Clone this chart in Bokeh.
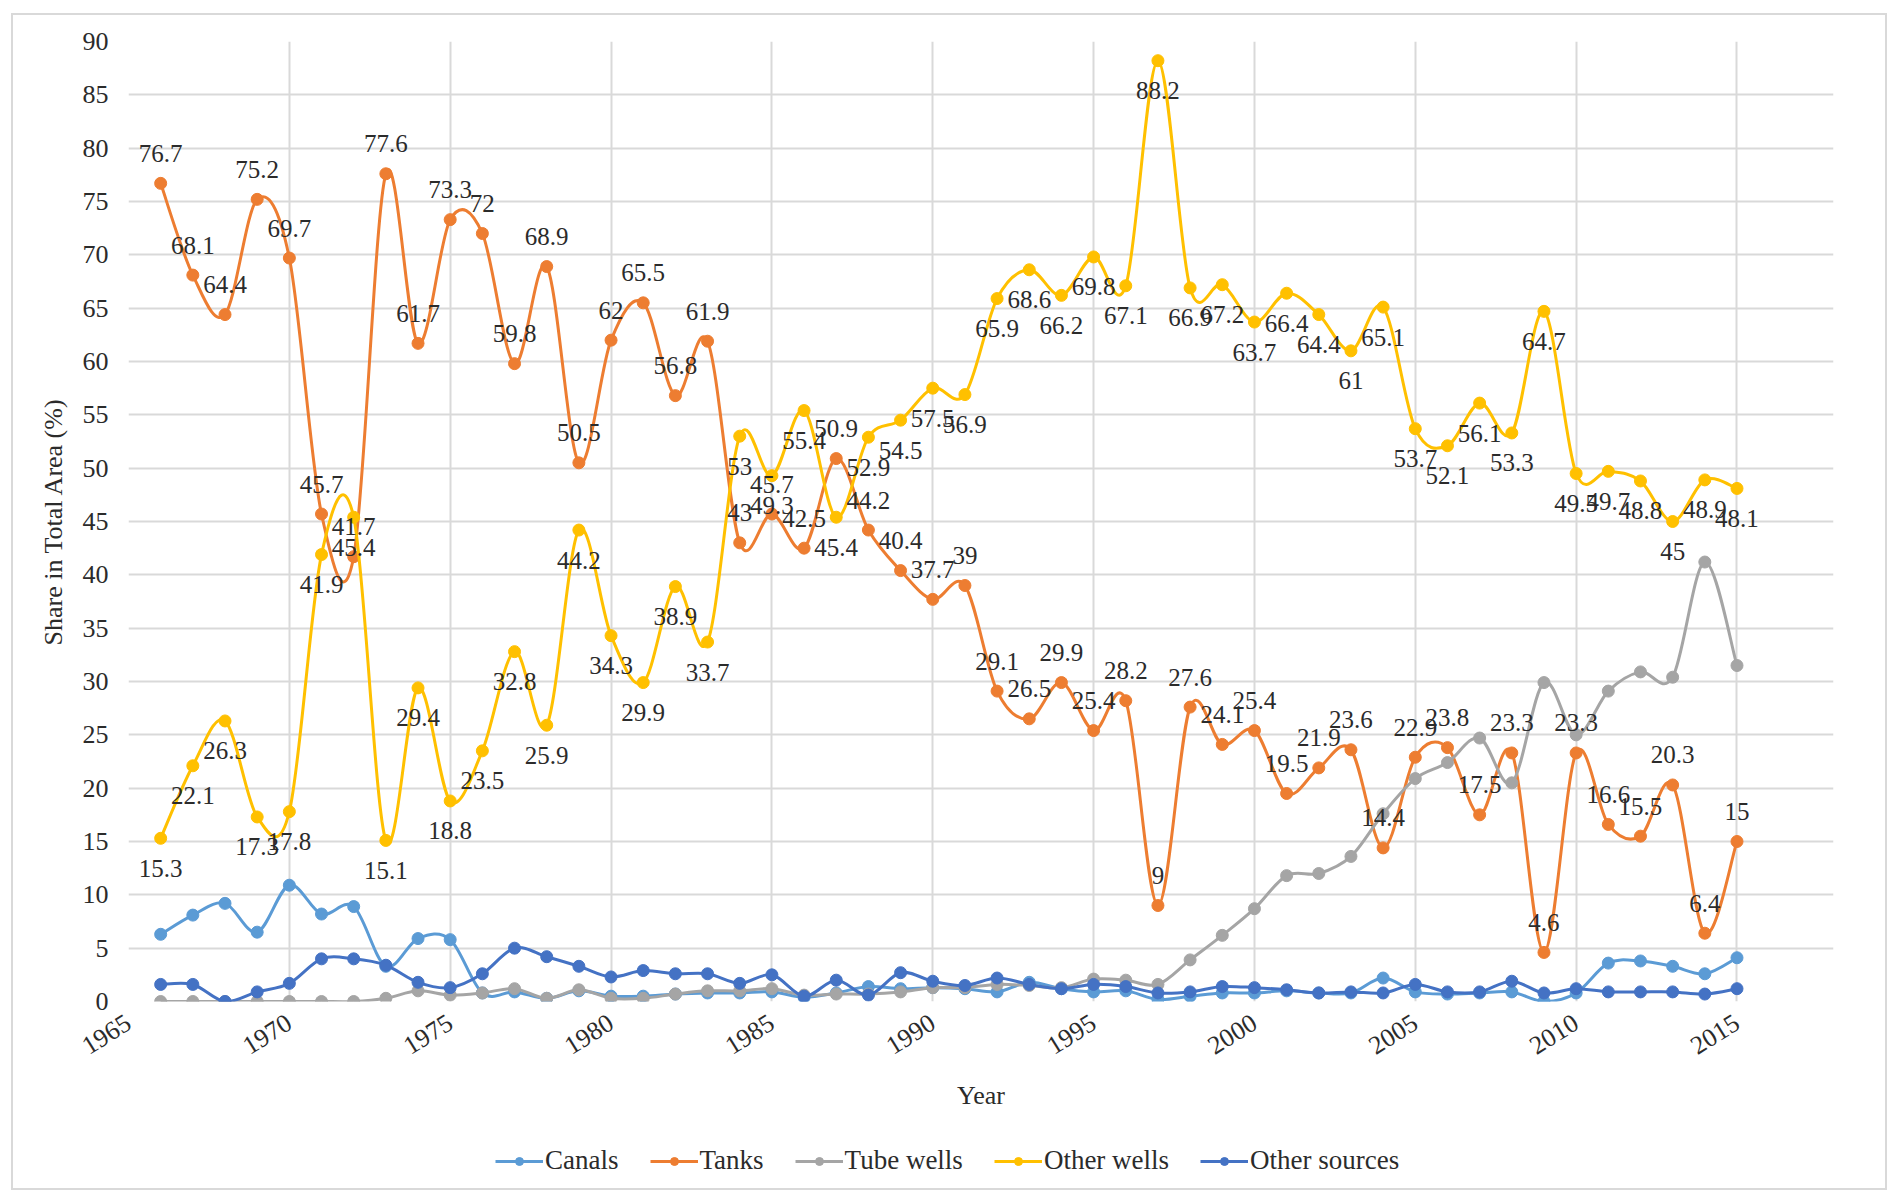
import math
from bokeh.plotting import figure
from bokeh.layouts import column
from bokeh.models import FixedTicker, Legend, LegendItem, Range1d, ColumnDataSource
from bokeh.core.properties import value
from bokeh.embed import file_html
from bokeh.resources import INLINE

# ---------------- data ----------------
years = list(range(1966, 2016))

canals = [6.3, 8.1, 9.2, 6.5, 10.9, 8.2, 8.9, 3.3, 5.9, 5.8,
          0.8, 0.9, 0.3, 1.0, 0.5, 0.5, 0.7, 0.8, 0.8, 0.9,
          0.4, 0.8, 1.4, 1.2, 1.3, 1.2, 0.9, 1.8, 1.2, 0.9,
          1.0, 0.2, 0.5, 0.8, 0.8, 1.0, 0.8, 0.8, 2.2, 0.9,
          0.7, 0.8, 0.9, 0.0, 0.8, 3.6, 3.8, 3.3, 2.6, 4.1]

tanks = [76.7, 68.1, 64.4, 75.2, 69.7, 45.7, 41.7, 77.6, 61.7, 73.3,
         72, 59.8, 68.9, 50.5, 62, 65.5, 56.8, 61.9, 43, 45.7,
         42.5, 50.9, 44.2, 40.4, 37.7, 39, 29.1, 26.5, 29.9, 25.4,
         28.2, 9, 27.6, 24.1, 25.4, 19.5, 21.9, 23.6, 14.4, 22.9,
         23.8, 17.5, 23.3, 4.6, 23.3, 16.6, 15.5, 20.3, 6.4, 15]

tube_wells = [0, 0, 0, 0, 0, 0, 0, 0.3, 1.0, 0.6,
              0.8, 1.2, 0.3, 1.1, 0.3, 0.3, 0.7, 1.0, 1.0, 1.2,
              0.6, 0.7, 0.7, 0.9, 1.3, 1.3, 1.6, 1.5, 1.3, 2.1,
              2.0, 1.6, 3.9, 6.2, 8.7, 11.8, 12.0, 13.6, 17.6, 20.9,
              22.4, 24.7, 20.5, 29.9, 25.0, 29.1, 30.9, 30.4, 41.2, 31.5]

other_wells = [15.3, 22.1, 26.3, 17.3, 17.8, 41.9, 45.4, 15.1, 29.4, 18.8,
               23.5, 32.8, 25.9, 44.2, 34.3, 29.9, 38.9, 33.7, 53, 49.3,
               55.4, 45.4, 52.9, 54.5, 57.5, 56.9, 65.9, 68.6, 66.2, 69.8,
               67.1, 88.2, 66.9, 67.2, 63.7, 66.4, 64.4, 61, 65.1, 53.7,
               52.1, 56.1, 53.3, 64.7, 49.5, 49.7, 48.8, 45, 48.9, 48.1]

other_sources = [1.6, 1.6, 0.0, 0.9, 1.7, 4.0, 4.0, 3.4, 1.8, 1.3,
                 2.6, 5.0, 4.2, 3.3, 2.3, 2.9, 2.6, 2.6, 1.7, 2.5,
                 0.5, 2.0, 0.6, 2.7, 1.9, 1.5, 2.2, 1.6, 1.2, 1.6,
                 1.4, 0.8, 0.9, 1.4, 1.3, 1.1, 0.8, 0.9, 0.8, 1.6,
                 0.9, 0.9, 1.9, 0.8, 1.2, 0.9, 0.9, 0.9, 0.7, 1.2]

series_names = ["Canals", "Tanks", "Tube wells", "Other wells", "Other sources"]
series_values = [canals, tanks, tube_wells, other_wells, other_sources]
series_colors = ["#5B9BD5", "#ED7D31", "#A5A5A5", "#FFC000", "#4472C4"]

x_ticks = [1965, 1970, 1975, 1980, 1985, 1990, 1995, 2000, 2005, 2010, 2015]
y_ticks = list(range(0, 95, 5))

FONT = "Liberation Serif"
TXT = "#2B2B2B"
LW = 3
MS = 12


def smooth_segments(xs, ys):
    """Excel-style smoothed line: cubic bezier segments from the data points."""
    n = len(xs)
    d = dict(x0=[], y0=[], x1=[], y1=[], cx0=[], cy0=[], cx1=[], cy1=[])
    for i in range(n - 1):
        a = i - 1 if i > 0 else i
        b = i + 2 if i + 2 < n else i + 1
        d["x0"].append(xs[i]); d["y0"].append(ys[i])
        d["x1"].append(xs[i + 1]); d["y1"].append(ys[i + 1])
        d["cx0"].append(xs[i] + (xs[i + 1] - xs[a]) / 6.0)
        d["cy0"].append(ys[i] + (ys[i + 1] - ys[a]) / 6.0)
        d["cx1"].append(xs[i + 1] - (xs[b] - xs[i]) / 6.0)
        d["cy1"].append(ys[i + 1] - (ys[b] - ys[i]) / 6.0)
    return ColumnDataSource(d)


# ---------------- main chart ----------------
p = figure(width=1872, height=1105, output_backend="svg", toolbar_location=None,
           x_range=Range1d(1965, 2018), y_range=Range1d(0, 90),
           min_border_left=115, min_border_top=26, min_border_right=52,
           min_border_bottom=119)
p.outline_line_color = None
p.background_fill_color = "white"
p.border_fill_color = "white"

p.xgrid.ticker = FixedTicker(ticks=x_ticks)
p.ygrid.ticker = FixedTicker(ticks=y_ticks)
for g in (p.xgrid, p.ygrid):
    g.grid_line_color = "#D9D9D9"
    g.grid_line_width = 2

p.xaxis.ticker = FixedTicker(ticks=x_ticks)
p.yaxis.ticker = FixedTicker(ticks=y_ticks)
for ax in (p.xaxis, p.yaxis):
    ax.axis_line_color = None
    ax.major_tick_line_color = None
    ax.minor_tick_line_color = None
    ax.major_label_text_font = FONT
    ax.major_label_text_font_size = "26px"
    ax.major_label_text_color = TXT
    ax.axis_label_text_font = FONT
    ax.axis_label_text_font_size = "26px"
    ax.axis_label_text_font_style = "normal"
    ax.axis_label_text_color = TXT
p.xaxis.major_label_orientation = math.radians(32)
p.xaxis.major_label_standoff = 13
p.xaxis.axis_label = "Year"
p.xaxis.axis_label_standoff = 16
p.yaxis.major_label_standoff = 14
p.yaxis.axis_label = "Share in Total Area (%)"
p.yaxis.axis_label_standoff = 12

for name, vals, col in zip(series_names, series_values, series_colors):
    src = smooth_segments(years, vals)
    p.bezier(x0="x0", y0="y0", x1="x1", y1="y1", cx0="cx0", cy0="cy0",
             cx1="cx1", cy1="cy1", source=src, line_color=col, line_width=LW)
    p.scatter(x=years, y=vals, size=MS, fill_color=col, line_color=col)

# data labels: Tanks above the points, Other wells below
p.text(x=years, y=tanks, text=[f"{v:g}" for v in tanks], y_offset=-30,
       text_align="center", text_baseline="middle", text_font=value(FONT),
       text_font_size="25px", text_color=TXT)
p.text(x=years, y=other_wells, text=[f"{v:g}" for v in other_wells], y_offset=30,
       text_align="center", text_baseline="middle", text_font=value(FONT),
       text_font_size="25px", text_color=TXT)

# ---------------- legend strip ----------------
# proxy renderers: the series drawn in an empty window (all points fall outside
# this strip's ranges), used only so the legend can draw its line+marker samples
q = figure(width=1872, height=68, output_backend="svg", toolbar_location=None,
           x_range=Range1d(0, 1), y_range=Range1d(0, 1),
           x_axis_type=None, y_axis_type=None, min_border=0)
q.outline_line_color = None
q.grid.visible = False
q.background_fill_color = "white"
q.border_fill_color = "white"

items = []
for name, vals, col in zip(series_names, series_values, series_colors):
    lr = q.line(x=years, y=vals, line_color=col, line_width=LW)
    sr = q.scatter(x=years, y=vals, size=MS - 1, fill_color=col, line_color=col)
    items.append(LegendItem(label=name, renderers=[lr, sr]))

legend = Legend(items=items, orientation="horizontal", location=(367, 12),
                label_text_font=FONT, label_text_font_size="27px",
                label_text_color=TXT, glyph_width=48, glyph_height=20,
                spacing=31, label_standoff=2, padding=5, margin=0,
                border_line_color=None, background_fill_alpha=0)
q.add_layout(legend, "center")

layout = column(p, q, spacing=0, margin=(15, 0, 0, 13),
                styles={"outline": "2px solid #D9D9D9"})

open("out.html", "w").write(file_html(layout, INLINE))
